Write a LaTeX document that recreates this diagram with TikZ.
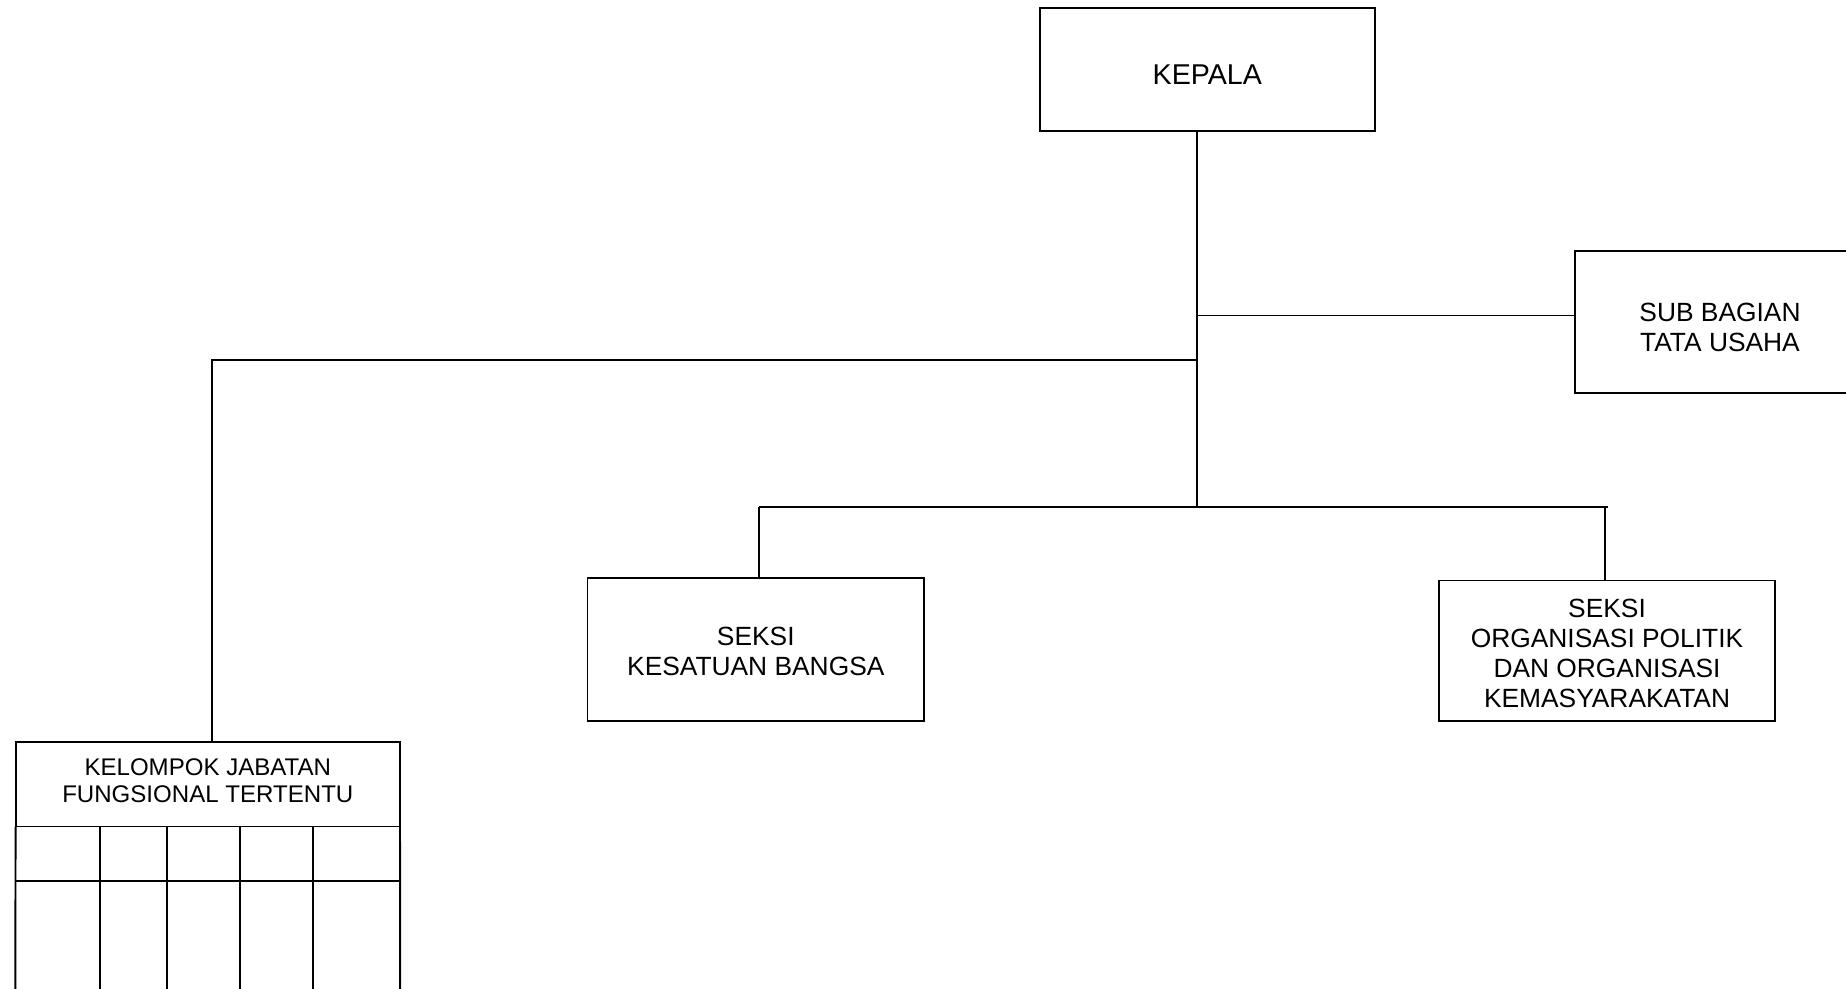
\documentclass[tikz,border=0pt]{standalone}
\usepackage{fontspec}
\setmainfont{Liberation Sans}
\begin{document}
\begin{tikzpicture}[x=0.02cm,y=-0.02cm,
  line width=1.1pt,
  box/.style={draw, rectangle, inner sep=0pt, outer sep=0pt},
  lbl/.style={inner sep=0pt, align=center, font=\fontsize{15}{17}\selectfont},
  biglbl/.style={lbl, font=\fontsize{16.3}{19}\selectfont},
  smalllbl/.style={lbl, font=\fontsize{13.7}{15.4}\selectfont}]
\useasboundingbox (0,0) rectangle (1846,988);
% boxes
\node[box, minimum width=6.708cm, minimum height=2.45cm] (kepala) at (1207.3,69.5) {};
\node[box, minimum width=5.8cm, minimum height=2.848cm] (tu) at (1720,322) {};
\node[box, minimum width=6.734cm, minimum height=2.85cm] (kb) at (755.8,649.3) {};
\node[box, minimum width=6.734cm, minimum height=2.802cm] (orpol) at (1607,650.5) {};
\node[box, minimum width=7.69cm, minimum height=1.696cm] (jf) at (207.8,784.1) {};
% labels
\node[biglbl] (kepalaT) at ([yshift=-0.094cm]kepala.center) {KEPALA};
\node[lbl] (tuT) at ([yshift=-0.106cm]tu.center) {SUB BAGIAN\\TATA USAHA};
\node[lbl] (kbT) at ([yshift=-0.036cm]kb.center) {SEKSI\\KESATUAN BANGSA};
\node[lbl] (orpolT) at ([yshift=-0.054cm]orpol.center) {SEKSI\\ORGANISASI POLITIK\\DAN ORGANISASI\\KEMASYARAKATAN};
\node[smalllbl] (jfT) at ([yshift=0.07cm]jf.center) {KELOMPOK JABATAN\\FUNGSIONAL TERTENTU};
% grid below functional group
\coordinate (gBL) at (15.3,1000);
\coordinate (gBR) at (400.2,1000);
\draw (jf.south west) -- (gBL);
\draw (jf.south east) -- (gBR);
\draw (15.3,880.6) -- (400.2,880.6);
\foreach \cx in {100,167.2,240.2,313.2} \draw (\cx,826.5) -- (\cx,1000);
% connectors
\coordinate (top) at (1197.3,130.7);
\coordinate (jtu) at (1197.3,315.5);
\coordinate (jjf) at (1197.3,360.3);
\coordinate (bus) at (1197.3,507.4);
\coordinate (busL) at (759.4,507.4);
\coordinate (busR) at (1604.7,507.4);
\coordinate (busRend) at (1608.2,507.4);
\coordinate (jfL) at (211.9,360.3);
\draw (top) -- (bus);
\draw (jtu) -- (tu.west |- jtu);
\draw (jjf) -- (jfL) -- (jfL |- jf.north);
\draw (busL) -- (busRend);
\draw (busL) -- (busL |- kb.north);
\draw (busR) -- (busR |- orpol.north);
\end{tikzpicture}
\end{document}
